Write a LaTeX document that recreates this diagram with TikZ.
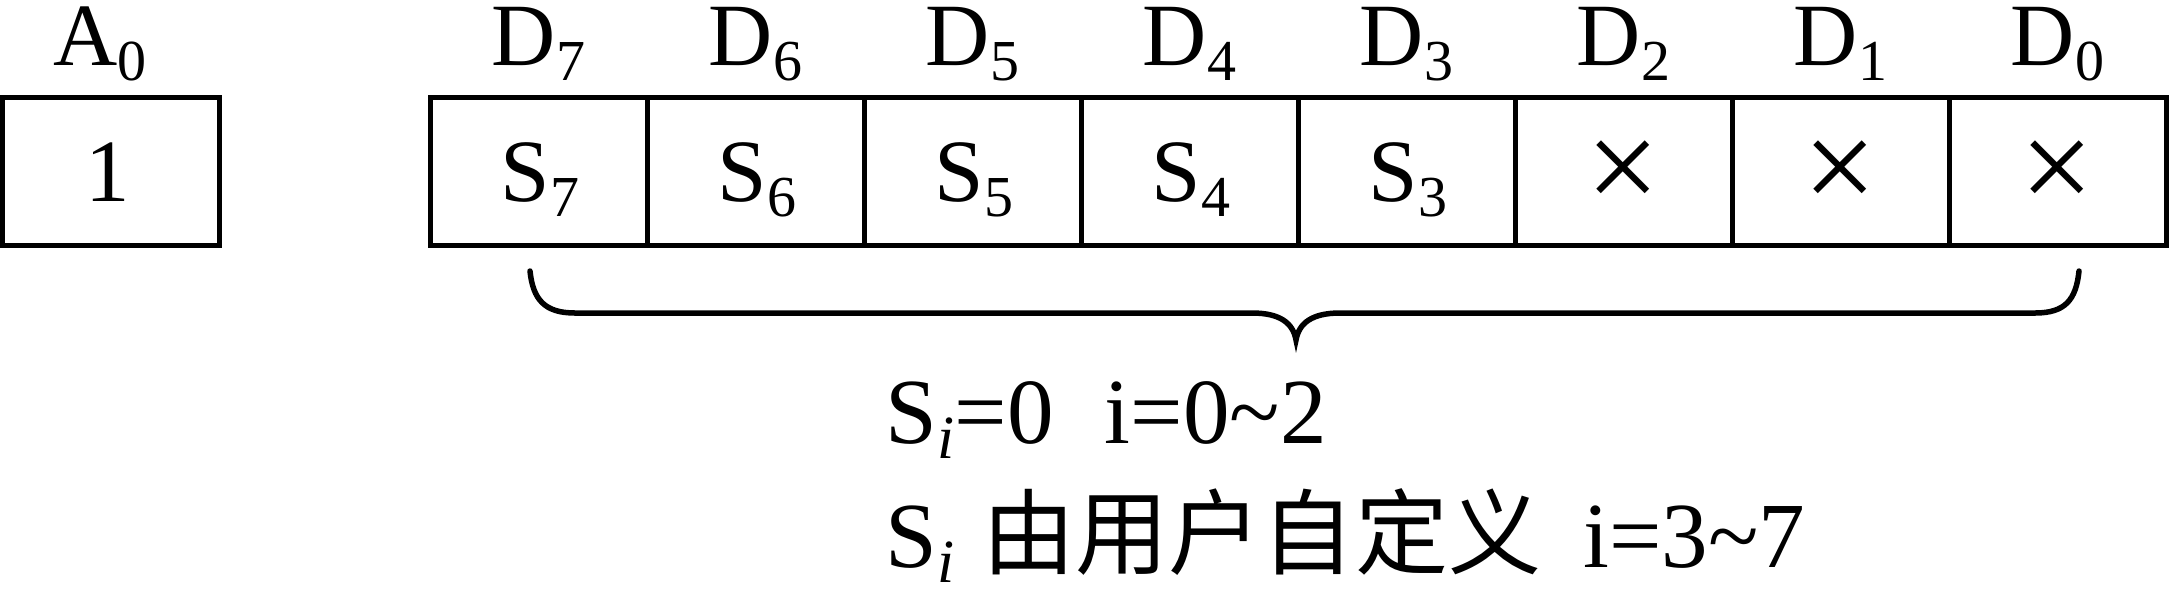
\documentclass[tikz,border=0pt]{standalone}
\usepackage{fontspec}
\setmainfont{Liberation Serif}
\newfontfamily\cjk{Noto Sans CJK SC}[Scale=1.0]
\newcommand\sbs[1]{\raisebox{-0.17em}{\fontsize{16.5}{17}\selectfont #1}}
\newcommand\sbn[1]{\raisebox{-0.17em}{\fontsize{17.5}{18}\selectfont #1}}
\begin{document}
\begin{tikzpicture}[x=0.1mm,y=-0.1mm,
  box/.style={draw,line width=0.5mm,minimum width=21.7mm,minimum height=14.85mm,inner sep=0pt},
  txt/.style={anchor=base,inner sep=0pt,font=\fontsize{25.3}{30}\selectfont},
  crosssign/.style={anchor=center,inner sep=0pt,font=\fontsize{37}{40}\selectfont},
  note/.style={anchor=base west,inner sep=0pt,font=\fontsize{26.5}{30}\selectfont},
  brace/.style={line width=0.55mm,line cap=round}]
\useasboundingbox (0,0) rectangle (2169,596);
% A0 box
\node[box,minimum width=21.65mm] (a0) at (110.75,171.25) {};
\node[txt] (a0t) at (108,201) {1};
\node[txt] (a0l) at (100,65) {A\sbs{0}};
% data cells
\foreach \k/\lab in {0/7,1/6,2/5,3/4,4/3}{
  \node[box] (c\lab) at ({538.5+217*\k},171.25) {};
  \node[txt] (v\lab) at ({540+217*\k},201) {S\sbs{\lab}};
  \node[txt] (d\lab) at ({538.5+217*\k},65) {D\sbs{\lab}};
}
\foreach \k/\lab in {5/2,6/1,7/0}{
  \node[box] (c\lab) at ({538.5+217*\k},171.25) {};
  \node[crosssign] (v\lab) at ({538.5+217*\k},176) {×};
  \node[txt] (d\lab) at ({538.5+217*\k},65) {D\sbs{\lab}};
}
% brace
\draw[brace] (530,271) .. controls (533,300) and (545,313) .. (575,313) -- (1252,313)
  .. controls (1280,313) and (1293,323) .. (1296,340)
  .. controls (1299,323) and (1312,313) .. (1340,313) -- (2035,313)
  .. controls (2065,313) and (2076,300) .. (2079,271);
% notes
\node[note] (n1) at (885,443) {S\sbn{\textit{i}}=0\hspace{0.55em}i=0\symbol{"7E}2};
\node[note] (n2) at (885,567) {S\sbn{\textit{i}}\hspace{0.3em}{\cjk 由用户自定义}\hspace{0.45em}i=3\symbol{"7E}7};
\end{tikzpicture}
\end{document}
